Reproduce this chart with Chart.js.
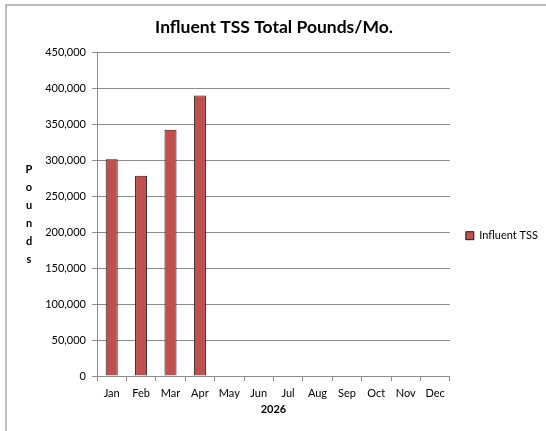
<!DOCTYPE html>
<html>
<head>
<meta charset="utf-8">
<script src="https://cdn.jsdelivr.net/npm/chart.js@4"></script>
<style>
  html, body { margin: 0; padding: 0; background: #ffffff; }
  #wrap { position: relative; width: 546px; height: 431px; }
</style>
</head>
<body>
<div id="wrap"><canvas id="c" width="546" height="431"></canvas></div>
<script>
const months = ['Jan','Feb','Mar','Apr','May','Jun','Jul','Aug','Sep','Oct','Nov','Dec'];
const influentTSS = [301000, 278000, 342000, 389500, null, null, null, null, null, null, null, null];
const seriesName = 'Influent TSS';
const chartTitle = 'Influent TSS Total Pounds/Mo.';
const xTitle = '2026';
const yTitle = 'Pounds';
const yMin = 0, yMax = 450000, yStep = 50000;

const FONT = 'Lato, "Liberation Sans", sans-serif';

const framePlugin = {
  id: 'frame',
  beforeDraw(chart) {
    const ctx = chart.ctx;
    ctx.save();
    ctx.fillStyle = '#ffffff';
    ctx.fillRect(0, 0, chart.width, chart.height);
    ctx.strokeStyle = '#a6a6a6';
    ctx.lineWidth = 1.5;
    ctx.beginPath();
    ctx.moveTo(6, chart.height);
    ctx.lineTo(6, 5);
    ctx.lineTo(chart.width, 5);
    ctx.stroke();
    ctx.restore();
  }
};

const stackedYTitle = {
  id: 'stackedYTitle',
  afterDraw(chart) {
    const ctx = chart.ctx;
    const area = chart.chartArea;
    const letters = yTitle.split('');
    const gap = 18;
    const mid = (area.top + area.bottom) / 2;
    const start = mid - gap * (letters.length - 1) / 2;
    ctx.save();
    ctx.font = 'bold 11px ' + FONT;
    ctx.fillStyle = '#000000';
    ctx.textAlign = 'center';
    ctx.textBaseline = 'middle';
    letters.forEach((ch, i) => ctx.fillText(ch, 29, start + i * gap));
    ctx.restore();
  }
};

new Chart(document.getElementById('c'), {
  type: 'bar',
  data: {
    labels: months,
    datasets: [{
      label: seriesName,
      data: influentTSS,
      backgroundColor: '#c0504d',
      borderColor: '#1a1a1a',
      borderWidth: 1,
      barPercentage: 0.82,
      categoryPercentage: 0.5
    }]
  },
  options: {
    responsive: false,
    animation: false,
    devicePixelRatio: 1,
    layout: { padding: { left: 0, right: -2, top: 0, bottom: 15 } },
    plugins: {
      title: {
        display: true,
        text: chartTitle,
        color: '#000000',
        font: { family: FONT, size: 17.5, weight: 'bold' },
        padding: { top: 17, bottom: 14 }
      },
      legend: {
        display: true,
        position: 'right',
        title: {
          display: true,
          text: ' ',
          font: { family: FONT, size: 12 },
          padding: { top: 41, bottom: 0 }
        },
        labels: {
          boxWidth: 8,
          boxHeight: 8,
          color: '#000000',
          font: { family: FONT, size: 11 },
          padding: 16
        }
      },
      tooltip: { enabled: false }
    },
    scales: {
      x: {
        offset: true,
        grid: {
          offset: true,
          drawOnChartArea: false,
          drawTicks: true,
          tickLength: 5,
          color: '#8c8c8c'
        },
        border: { color: '#8c8c8c', width: 1 },
        ticks: {
          color: '#000000',
          font: { family: FONT, size: 11 },
          maxRotation: 0,
          autoSkip: false,
          padding: 6
        },
        title: {
          display: true,
          text: xTitle,
          color: '#000000',
          font: { family: FONT, size: 11, weight: 'bold' },
          padding: { top: 2, bottom: 0 }
        },
        afterFit(scale) { scale.height = 40; }
      },
      y: {
        min: yMin,
        max: yMax,
        grid: {
          color: '#8c8c8c',
          tickLength: 5,
          drawTicks: true
        },
        border: { color: '#8c8c8c', width: 1 },
        ticks: {
          stepSize: yStep,
          color: '#000000',
          font: { family: FONT, size: 11 },
          padding: 6,
          callback: v => v.toLocaleString('en-US')
        },
        afterFit(scale) { scale.width = 97; }
      }
    }
  },
  plugins: [framePlugin, stackedYTitle]
});
</script>
</body>
</html>
